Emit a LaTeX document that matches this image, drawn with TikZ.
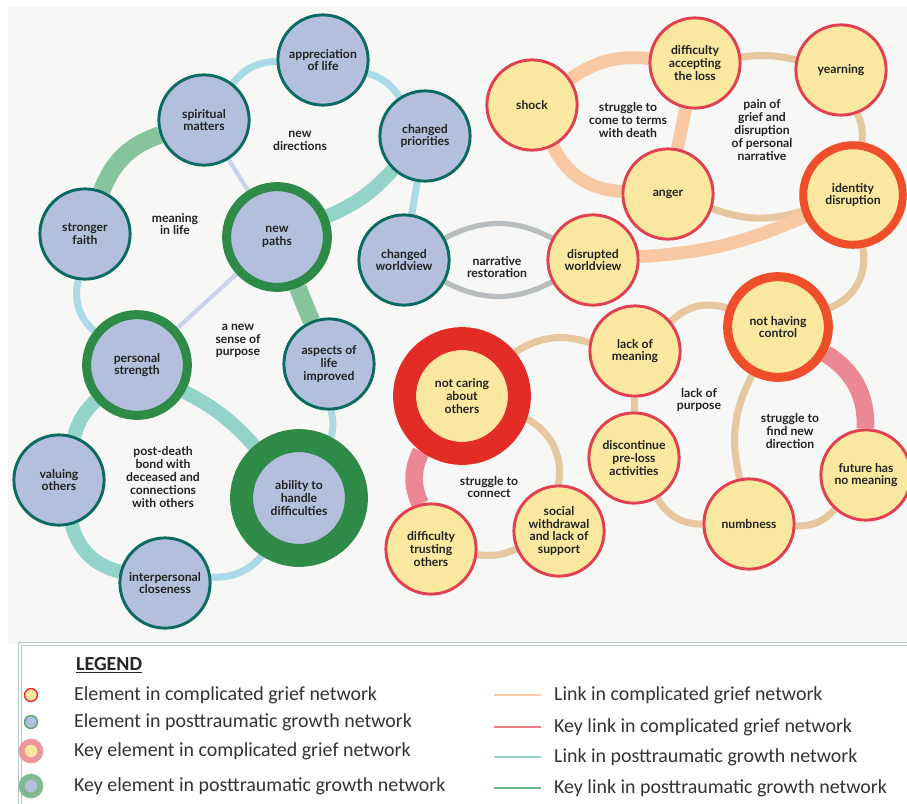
\documentclass[tikz,border=0pt]{standalone}
\usepackage{fontspec}
\setmainfont{Lato}
\newfontfamily\legfont{Carlito}
\pgfdeclarelayer{bg}
\pgfdeclarelayer{links}
\pgfsetlayers{bg,links,main}
% element colours
\definecolor{ptgfill}{HTML}{B4BFDD}
\definecolor{ptgline}{HTML}{0C6B60}
\definecolor{ptgring}{HTML}{2D8A47}
\definecolor{cgfill}{HTML}{FBE8A0}
\definecolor{cgline}{HTML}{E0404F}
\definecolor{cgorange}{HTML}{EE4E2A}
\definecolor{cgred}{HTML}{E32C25}
% link colours
\definecolor{lnblue}{HTML}{AAD9E8}
\definecolor{lnmint}{HTML}{94D3C9}
\definecolor{lngreen}{HTML}{86C49C}
\definecolor{lnlav}{HTML}{C9D2EA}
\definecolor{lnpeach}{HTML}{F8C9A2}
\definecolor{lntan}{HTML}{E7C7A0}
\definecolor{lnpink}{HTML}{EC8893}
\definecolor{lngrey}{HTML}{B8BDBF}
\definecolor{paper}{HTML}{F7F7F5}
\definecolor{txt}{HTML}{222222}
\definecolor{legline}{HTML}{B5C6CB}
\definecolor{legkey}{HTML}{6AB584}
\tikzset{
  elem/.style={circle,inner sep=0pt,minimum size=77pt,line width=2.5pt,align=center,
    font=\bfseries\fontsize{10.4}{10.7}\selectfont,text=txt},
  ptg/.style={elem,fill=ptgfill,draw=ptgline},
  cg/.style={elem,fill=cgfill,draw=cgline},
  ring/.style 2 args={minimum size=#1,line width=#2},
  lbl/.style={align=center,font=\bfseries\fontsize{10.4}{10.9}\selectfont,text=txt},
  ptglink/.style={draw=lnblue,line width=6pt},
  ptgwide/.style={draw=lnmint,line width=12pt},
  ptgkeylink/.style={draw=lngreen,line width=15pt},
  lavlink/.style={draw=lnlav,line width=3.5pt},
  cglink/.style={draw=lntan,line width=6pt},
  cgwide/.style={draw=lnpeach,line width=11pt},
  cgkeylink/.style={draw=lnpink,line width=15pt},
  restlink/.style={draw=lngrey,line width=4.5pt},
  legtext/.style={anchor=west,font=\legfont\fontsize{17}{19}\selectfont,text=black!80}
}
\begin{document}
\begin{tikzpicture}[x=0.03cm,y=-0.03cm]
\useasboundingbox (0,0) rectangle (907,803);
\begin{pgfonlayer}{bg}
  \fill[white] (0,0) rectangle (907,803);
  \fill[paper] (8,7) rectangle (907,644);
\end{pgfonlayer}

% posttraumatic growth network
\node[ptg] (appr) at (323,60) {appreciation\\of life};
\node[ptg] (spirit) at (204,120) {spiritual\\matters};
\node[ptg] (prior) at (425,136) {changed\\priorities};
\node[ptg] (faith) at (85,234) {stronger\\faith};
\node[ptg,draw=ptgring,ring={86pt}{7.7pt}] (paths) at (277,237) {new\\paths};
\node[ptg] (cworld) at (404,260) {changed\\worldview};
\node[ptg,draw=ptgring,ring={86pt}{7.7pt}] (strength) at (137,365) {personal\\strength};
\node[ptg] (aspects) at (329,364) {aspects of\\life\\improved};
\node[ptg] (valuing) at (59,480) {valuing\\others};
\node[ptg,draw=ptgring,ring={98pt}{19.6pt}] (ability) at (299,498) {ability to\\handle\\difficulties};
\node[ptg] (close) at (165,583) {interpersonal\\closeness};

% complicated grief network
\node[cg] (shock) at (532,105) {shock};
\node[cg] (accept) at (695,63) {difficulty\\accepting\\the loss};
\node[cg] (yearn) at (841,70) {yearning};
\node[cg] (anger) at (668,194) {anger};
\node[cg,draw=cgorange,ring={85pt}{6.8pt}] (ident) at (853,195) {identity\\disruption};
\node[cg] (dworld) at (593,260) {disrupted\\worldview};
\node[cg,draw=cgorange,ring={86pt}{7.7pt}] (control) at (778,327) {not having\\control};
\node[cg] (meaning) at (635,351) {lack of\\meaning};
\node[cg,draw=cgred,ring={98pt}{19.6pt}] (caring) at (462,396) {not caring\\about\\others};
\node[cg] (discont) at (634,458) {discontinue\\pre-loss\\activities};
\node[cg] (future) at (866,475) {future has\\no meaning};
\node[cg] (numb) at (749,524) {numbness};
\node[cg] (social) at (559,531) {social\\withdrawal\\and lack of\\support};
\node[cg] (trust) at (431,549) {difficulty\\trusting\\others};

% theme labels
\node[lbl] (l1) at (300,141) {new\\directions};
\node[lbl] (l2) at (175,224) {meaning\\in life};
\node[lbl] (l3) at (238,341) {a new\\sense of\\purpose};
\node[lbl] (l4) at (163,477) {post-death\\bond with\\deceased and\\connections\\with others};
\node[lbl] (l5) at (497,267) {narrative\\restoration};
\node[lbl] (l6) at (628,120) {struggle to\\come to terms\\with death};
\node[lbl] (l7) at (762,130) {pain of\\grief and\\disruption\\of personal\\narrative};
\node[lbl] (l8) at (699,400) {lack of\\purpose};
\node[lbl] (l9) at (790,431) {struggle to\\find new\\direction};
\node[lbl] (l10) at (489,487) {struggle to\\connect};

\begin{pgfonlayer}{links}
  \draw[ptglink] (spirit) to[bend left=25] (appr);
  \draw[ptglink] (appr) to[bend left=20] (prior);
  \draw[ptglink] (prior) -- (cworld);
  \draw[ptgwide] (prior) to[bend left=12] (paths);
  \draw[lavlink] (spirit) -- (paths);
  \draw[ptgkeylink] (faith) to[bend left=25] (spirit);
  \draw[ptglink] (faith) to[bend right=30] (strength);
  \draw[lavlink] (paths) -- (strength);
  \draw[ptgkeylink] (paths) -- (aspects);
  \draw[ptglink] (aspects) to[bend left=15] (ability);
  \draw[ptgwide] (strength) to[bend left=10] (ability);
  \draw[ptgwide] (valuing) to[bend left=15] (strength);
  \draw[ptgwide] (valuing) to[bend right=30] (close);
  \draw[ptglink] (close) to[bend right=25] (ability);
  \draw[restlink] (cworld) to[bend left=28] (dworld);
  \draw[restlink] (cworld) to[bend right=28] (dworld);
  \draw[cgwide] (shock) to[bend left=20] (accept);
  \draw[cgwide] (shock) to[bend right=30] (anger);
  \draw[cgwide] (accept) -- (anger);
  \draw[cglink] (accept) to[bend left=10] (yearn);
  \draw[cglink] (yearn) to[bend left=15] (ident);
  \draw[cglink] (anger) to[bend right=18] (ident);
  \draw[cgwide] (dworld) to[bend right=10] (ident);
  \draw[cglink] (ident) to[bend left=40] (control);
  \draw[cglink] (meaning) to[bend left=30] (control);
  \draw[cglink] (meaning) -- (discont);
  \draw[cglink] (discont) to[bend right=30] (numb);
  \draw[cglink] (control) to[bend right=20] (numb);
  \draw[cgkeylink] (control) to[bend left=30] (future);
  \draw[cglink] (numb) to[bend right=25] (future);
  \draw[cglink] (caring) to[bend left=25] (meaning);
  \draw[cglink] (caring) to[bend left=35] (social);
  \draw[cgkeylink] (caring) to[bend right=25] (trust);
  \draw[cglink] (trust) to[bend right=15] (social);
\end{pgfonlayer}

% legend
\draw[legline,line width=1pt,double=white,double distance=2pt,fill=white] (20,644) rectangle (915,812);
\node[anchor=west,font=\legfont\bfseries\fontsize{17}{19}\selectfont,text=black!85] (legtitle) at (72,665) {\underline{LEGEND}};
\node[circle,inner sep=0pt,minimum size=11pt,fill=cgfill,draw=cgred,line width=1.2pt] (sym1) at (31,695) {};
\node[circle,inner sep=0pt,minimum size=11pt,fill=ptgfill,draw=ptgring!80,line width=1.2pt] (sym2) at (31,722) {};
\node[circle,inner sep=0pt,minimum size=16pt,fill=cgfill,draw=cgline!55,line width=5pt] (sym3) at (31,751) {};
\node[circle,inner sep=0pt,minimum size=16pt,fill=ptgfill,draw=ptgring!60,line width=5pt] (sym4) at (31,786) {};
\foreach \y/\t [count=\i] in {695/Element in complicated grief network,
    722/Element in posttraumatic growth network,
    751/Key element in complicated grief network,
    786/Key element in posttraumatic growth network}
  \node[legtext] (legl\i) at (70,\y) {\t};
\foreach \y/\c/\t [count=\i] in {695/lnpeach/Link in complicated grief network,
    727/lnpink!90!red/Key link in complicated grief network,
    757/lnmint/Link in posttraumatic growth network,
    788/legkey/Key link in posttraumatic growth network}
{
  \draw[\c,line width=2.5pt] (494,\y) -- ++(47,0);
  \node[legtext] (legr\i) at (550,\y) {\t};
}
\end{tikzpicture}
\end{document}
